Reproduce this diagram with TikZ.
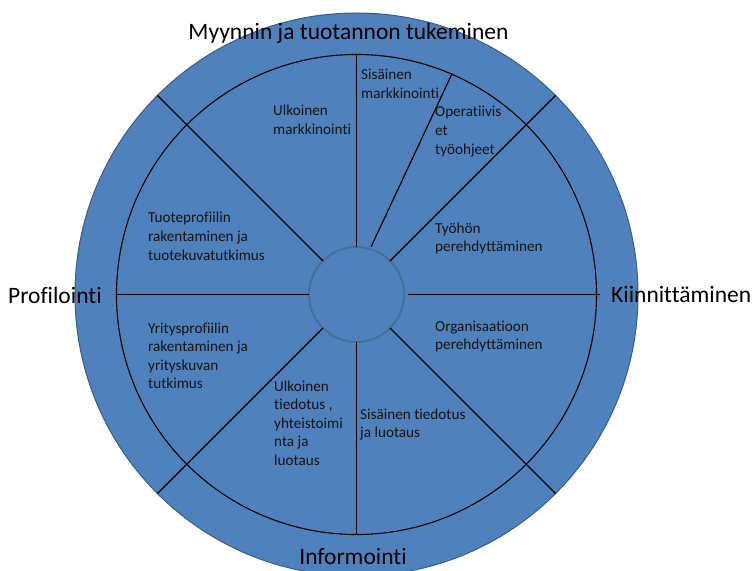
\documentclass[tikz,border=0pt]{standalone}
\usepackage{fontspec}
\setmainfont{Carlito}[Ligatures=NoCommon,RawFeature={-liga}]
\definecolor{wheelfill}{HTML}{4F81BD}
\definecolor{wheeledge}{HTML}{385D8A}
\definecolor{hubedge}{HTML}{41719C}
\newcommand{\lblock}[1]{\vtop{\baselineskip=18.6bp\lineskiplimit=-100bp #1}}
\tikzset{
  ring/.style={circle, inner sep=0pt, outer sep=0pt, draw=black, line width=1.1bp, fill=none},
  spoke/.style={draw=black, line width=1.2bp},
  biglabel/.style={inner sep=0pt, text=black, font=\fontsize{23.5bp}{28bp}\selectfont},
  smalllabel/.style={inner sep=0pt, anchor=base west, text=black!92, font=\fontsize{15.2bp}{18.6bp}\selectfont}
}
\begin{document}
\begin{tikzpicture}[x=1bp,y=-1bp]
\useasboundingbox (0,0) rectangle (752,571);
\clip (0,0) rectangle (752,571);
% outer disc
\node[circle, inner sep=0pt, outer sep=0pt, minimum size=563bp, fill=wheelfill, draw=wheeledge, line width=1bp] (outer) at (356.5,294.5) {};
% middle ring
\node[ring, minimum size=480bp] (mid) at (356.5,294.5) {};
% hub
\node[circle, inner sep=0pt, outer sep=0pt, minimum size=95bp, fill=wheelfill, draw=hubedge, line width=2bp] (hub) at (356.5,294.5) {};
% spokes
\coordinate (opin) at ([shift={(73:50bp)}]hub.center);
\coordinate (opout) at ([shift={(66.6:241bp)}]hub.center);
\draw[spoke] (hub.90) -- (mid.90);
\draw[spoke] (opin) -- (opout);
\draw[spoke] (hub.45) -- (outer.45);
\draw[spoke] (hub.135) -- (outer.135);
\draw[spoke] (hub.180) -- (mid.180);
\draw[spoke] ([xshift=4bp]hub.east) -- ([xshift=3bp]mid.east);
\draw[spoke] (hub.225) -- (outer.225);
\draw[spoke] (hub.270) -- (mid.270);
\draw[spoke] (hub.315) -- (outer.315);
% big labels
\node[biglabel, anchor=base] (tMyynti) at (348.5,40) {Myynnin ja tuotannon tukeminen};
\node[biglabel, anchor=base west] (tProf) at (8,303) {Profilointi};
\node[biglabel, anchor=base west] (tKiin) at (611,302) {Kiinnittäminen};
\node[biglabel, anchor=base] (tInfo) at (353,564) {Informointi};
% small labels
\node[smalllabel] (s1) at (273,116) {\lblock{\hbox{Ulkoinen}\hbox{markkinointi}}};
\node[smalllabel] (s2) at (361,80) {\lblock{\hbox{Sisäinen}\hbox{markkinointi}}};
\node[smalllabel] (s3) at (435,117) {\lblock{\hbox{Operatiivis}\hbox{et}\hbox{työohjeet}}};
\node[smalllabel] (s4) at (435,233) {\lblock{\hbox{Työhön}\hbox{perehdyttäminen}}};
\node[smalllabel] (s5) at (435,331) {\lblock{\hbox{Organisaatioon}\hbox{perehdyttäminen}}};
\node[smalllabel] (s6) at (148,223) {\lblock{\hbox{Tuoteprofiilin}\hbox{rakentaminen ja}\hbox{tuotekuvatutkimus}}};
\node[smalllabel] (s7) at (148,333) {\lblock{\hbox{Yritysprofiilin}\hbox{rakentaminen ja}\hbox{yrityskuvan}\hbox{tutkimus}}};
\node[smalllabel] (s8) at (274,391) {\lblock{\hbox{Ulkoinen}\hbox{tiedotus ,}\hbox{yhteistoimi}\hbox{nta ja}\hbox{luotaus}}};
\node[smalllabel] (s9) at (360,419) {\lblock{\hbox{Sisäinen tiedotus}\hbox{ja luotaus}}};
\end{tikzpicture}
\end{document}
